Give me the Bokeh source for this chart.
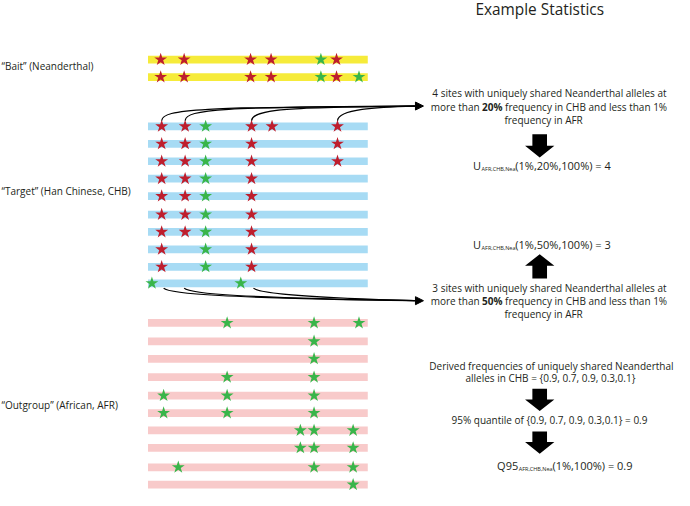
from bokeh.plotting import figure
from bokeh.models import Range1d, Arrow, NormalHead
from bokeh.core.properties import value
from bokeh.embed import file_html
from bokeh.resources import INLINE

FONT = "Open Sans"
TXT = "#231f20"
RED = "#be1e2d"
GREEN = "#39b54a"
N, A = "N", "A"   # N = Neanderthal-derived allele (red), A = other allele (green)

# ---- haplotypes (row centre, sites per row) ----
bait_y = [61, 79]
bait_sites = [
    [(164, N), (188, N), (256, N), (277, N), (328, A), (344, N)],
    [(164, N), (188, N), (256, N), (277, N), (328, A), (344, N), (367, A)],
]
target_y = [130, 148, 166, 184, 202, 221, 239, 257, 275, 292]
target_sites = [
    [(165, N), (189, N), (210, A), (257, N), (278, N), (345, N)],
    [(165, N), (189, N), (210, A), (257, N), (345, N)],
    [(165, N), (189, N), (210, A), (257, N), (345, N)],
    [(165, N), (189, N), (210, A), (257, N)],
    [(165, N), (189, N), (210, A), (257, N)],
    [(165, N), (189, N), (210, A), (257, N)],
    [(165, N), (189, N), (210, A), (257, N)],
    [(165, N), (210, A), (257, N)],
    [(165, N), (210, A), (257, N)],
    [(155, A), (246, A)],
]
outgroup_y = [333, 352, 370, 389, 408, 426, 444, 462, 482, 500]
outgroup_sites = [
    [(232, A), (321, A), (367, A)],
    [(321, A)],
    [(321, A)],
    [(232, A), (321, A)],
    [(167, A), (232, A), (321, A)],
    [(167, A), (232, A), (321, A)],
    [(307, A), (321, A), (361, A)],
    [(307, A), (321, A), (361, A)],
    [(182, A), (321, A), (361, A)],
    [(361, A)],
]
bar_left, bar_right, bar_h = 151, 376, 8
group_colors = ["#f6eb3a", "#a7dbf4", "#f8caca"]

# sites linked to the statistics
links_20 = [165, 189, 257, 345]
links_50 = [167, 188, 259]
link_target_20 = (433, 109)
link_target_50 = (433, 310)

# block arrows: (centre x, tail y, tip y)
block_arrows = [(552, 138, 162), (552, 287, 262), (552, 401, 424), (552, 445, 468)]

p = figure(width=674, height=490, x_range=Range1d(0, 690), y_range=Range1d(506, 0),
           output_backend="svg", toolbar_location=None, min_border=0,
           x_axis_location=None, y_axis_location=None)
p.grid.visible = False
p.outline_line_color = None
p.background_fill_color = "white"

# bars + stars
for ys, sites, col in [(bait_y, bait_sites, group_colors[0]),
                       (target_y, target_sites, group_colors[1]),
                       (outgroup_y, outgroup_sites, group_colors[2])]:
    p.hbar(y=ys, left=bar_left, right=bar_right, height=bar_h, fill_color=col, line_color=None)
    sx, sy, sc = [], [], []
    for y, row in zip(ys, sites):
        for x, k in row:
            sx.append(x); sy.append(y); sc.append(RED if k == N else GREEN)
    p.scatter(x=sx, y=sy, marker="star", size=13.5, fill_color=sc, line_color=None)

# link curves
top_row, bot_row = target_y[0], target_y[-1]
ex, ey = link_target_20
p.bezier(x0=[x for x in links_20], y0=[top_row - 6] * 4,
         x1=[ex - 9] * 4, y1=[ey] * 4,
         cx0=[x + 1 for x in links_20], cy0=[top_row - 18] * 4,
         cx1=[x + 40 for x in links_20], cy1=[ey + 1] * 4,
         line_color="black", line_width=1.2)
p.add_layout(Arrow(end=NormalHead(size=8, fill_color="black", line_color="black"),
                   x_start=ex - 10, y_start=ey, x_end=ex, y_end=ey,
                   line_color="black", line_width=1.2))
ex, ey = link_target_50
p.bezier(x0=[x for x in links_50], y0=[bot_row + 5] * 3,
         x1=[ex - 9] * 3, y1=[ey] * 3,
         cx0=[x + 6 for x in links_50], cy0=[bot_row + 11] * 3,
         cx1=[x + 60 for x in links_50], cy1=[ey - 3] * 3,
         line_color="black", line_width=1.2)
p.add_layout(Arrow(end=NormalHead(size=8, fill_color="black", line_color="black"),
                   x_start=ex - 10, y_start=ey, x_end=ex, y_end=ey,
                   line_color="black", line_width=1.2))

# block arrows
xs, ys = [], []
for cx, y0, y1 in block_arrows:
    d = 1 if y1 > y0 else -1
    hy = y1 - d * 12
    xs.append([cx - 7.5, cx + 7.5, cx + 7.5, cx + 15, cx, cx - 15, cx - 7.5])
    ys.append([y0, y0, hy, hy, y1, hy, hy])
p.patches(xs, ys, fill_color="black", line_color=None)

BODY = "10px"


def txt(x, y, s, size=BODY, align="center", bold=False):
    p.text(x=[x], y=[y], text=[s], text_font=value(FONT), text_font_size=size,
           text_align=align, text_baseline="middle", text_color=TXT,
           text_font_style="bold" if bold else "normal")


# left labels
txt(1, 68, "\u201cBait\u201d (Neanderthal)", BODY, "left")
txt(1, 197, "\u201cTarget\u201d (Han Chinese, CHB)", BODY, "left")
txt(1, 418, "\u201cOutgroup\u201d (African, AFR)", BODY, "left")

# right side
txt(552, 9, "Example Statistics", "15.4px")


def block(y, pct):
    txt(562, y, "4 sites with uniquely shared Neanderthal alleles at" if pct == "20%"
        else "3 sites with uniquely shared Neanderthal alleles at")
    txt(490.5, y + 13.5, "more than", align="right")
    txt(503.5, y + 13.5, pct, bold=True)
    txt(516.5, y + 13.5, "frequency in CHB and less than 1%", align="left")
    txt(556, y + 27, "frequency in AFR")


def ustat(y, x0, sub, rest, head="U"):
    txt(x0, y, head, "11px", "right")
    txt(x0 + 0.5, y + 3.5, sub, "5.5px", "left")
    txt(x0 + 35, y, rest, "11px", "left")


block(96, "20%")
ustat(170, 492, "AFR,CHB,Nea", "(1%,20%,100%) = 4")
ustat(252, 492, "AFR,CHB,Nea", "(1%,50%,100%) = 3")
block(297, "50%")

txt(564, 377, "Derived frequencies of uniquely shared Neanderthal")
txt(563, 390, "alleles in CHB = {0.9, 0.7, 0.9, 0.3,0.1}")
txt(562, 433, "95% quantile of {0.9, 0.7, 0.9, 0.3,0.1} = 0.9")
ustat(480, 530, "AFR,CHB,Nea", "(1%,100%) = 0.9", head="Q95")

open("out.html", "w").write(file_html(p, INLINE))
